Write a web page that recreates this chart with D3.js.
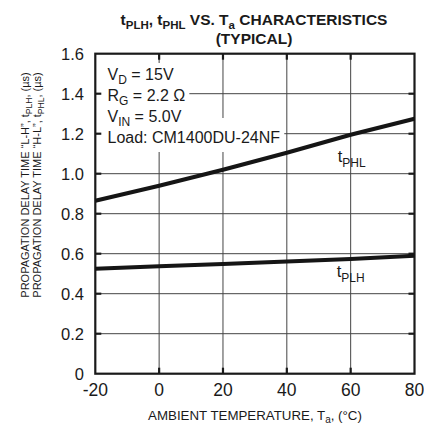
<!DOCTYPE html>
<html><head><meta charset="utf-8">
<script src="https://cdn.jsdelivr.net/npm/d3@7"></script>
<style>html,body{margin:0;padding:0;background:#fff;} text{font-family:"Liberation Sans",Arial,sans-serif;fill:#1a1a1a;}</style>
</head><body>
<svg id="c" width="424" height="428"></svg>
<script>
const temps = [-20, 0, 20, 40, 60, 80];
const tPHL = [0.865, 0.94, 1.02, 1.105, 1.195, 1.275];
const tPLH = [0.525, 0.537, 0.549, 0.561, 0.574, 0.59];
const xTicks = [-20, 0, 20, 40, 60, 80];
const yTicks = [0, 0.2, 0.4, 0.6, 0.8, 1.0, 1.2, 1.4, 1.6];
const yTickLabels = ["0", "0.2", "0.4", "0.6", "0.8", "1.0", "1.2", "1.4", "1.6"];
const notes = [["V", "D", " = 15V"], ["R", "G", " = 2.2 Ω"], ["V", "IN", " = 5.0V"], ["Load: CM1400DU-24NF", "", ""]];

const svg = d3.select("#c");
const L = 95.3, R = 414.5, T = 53.7, B = 373.7;
const x = d3.scaleLinear().domain([-20, 80]).range([L, R]);
const y = d3.scaleLinear().domain([0, 1.6]).range([B, T]);

// gridlines
const g = svg.append("g");
g.selectAll(".vg").data(xTicks.slice(1, -1)).enter().append("line")
  .attr("x1", d => x(d)).attr("x2", d => x(d)).attr("y1", T).attr("y2", B)
  .attr("stroke", "#444").attr("stroke-width", 1);
g.selectAll(".hg").data(yTicks.slice(1, -1)).enter().append("line")
  .attr("x1", L).attr("x2", R).attr("y1", d => y(d)).attr("y2", d => y(d))
  .attr("stroke", "#444").attr("stroke-width", 1);

// annotation with white background
const ann = svg.append("g");
const baselines = [80, 101, 122, 143];
const bgG = ann.append("g");
notes.forEach((n, i) => {
  const t = ann.append("text").attr("x", 107.5).attr("y", baselines[i]).attr("font-size", 16);
  t.append("tspan").text(n[0]);
  if (n[1]) t.append("tspan").attr("font-size", 12).attr("dy", 4).text(n[1]);
  if (n[2]) t.append("tspan").attr("dy", n[1] ? -4 : 0).text(n[2]);
  const bb = t.node().getBBox();
  const top = i === 3 ? baselines[i] - 25 : baselines[i] - 17;
  const bot = i === 3 ? baselines[i] + 9 : baselines[i] + 4;
  bgG.append("rect").attr("x", L + 1).attr("y", top).attr("width", bb.x + bb.width + 4 - L - 1)
    .attr("height", bot - top).attr("fill", "#fff");
});

// ticks
const tk = svg.append("g").attr("stroke", "#1a1a1a").attr("stroke-width", 2.2);
yTicks.slice(1, -1).forEach(v => {
  tk.append("line").attr("x1", L).attr("x2", L + 6).attr("y1", y(v)).attr("y2", y(v));
  tk.append("line").attr("x1", R - 6).attr("x2", R).attr("y1", y(v)).attr("y2", y(v));
});
xTicks.slice(1, -1).forEach(v => {
  tk.append("line").attr("x1", x(v)).attr("x2", x(v)).attr("y1", B).attr("y2", B - 6);
  tk.append("line").attr("x1", x(v)).attr("x2", x(v)).attr("y1", T).attr("y2", T + 6);
});

// border
svg.append("rect").attr("x", L).attr("y", T).attr("width", R - L).attr("height", B - T)
  .attr("fill", "none").attr("stroke", "#1a1a1a").attr("stroke-width", 2.2);

// data lines
const line = d3.line().x((d, i) => x(temps[i])).y(d => y(d));
svg.append("path").datum(tPHL).attr("d", line).attr("fill", "none").attr("stroke", "#151515").attr("stroke-width", 4.2);
svg.append("path").datum(tPLH).attr("d", line).attr("fill", "none").attr("stroke", "#151515").attr("stroke-width", 4);

// axis labels
svg.append("g").selectAll("text").data(yTicks).enter().append("text")
  .attr("x", 84).attr("y", d => y(d) + 6).attr("text-anchor", "end").attr("font-size", 16.5)
  .text((d, i) => yTickLabels[i]);
svg.append("g").selectAll("text").data(xTicks).enter().append("text")
  .attr("x", d => x(d)).attr("y", 396).attr("text-anchor", "middle").attr("font-size", 17.5)
  .text(d => d);

// series labels
function sublabel(px, py, main, sub) {
  const t = svg.append("text").attr("x", px).attr("y", py).attr("font-size", 16.5);
  t.append("tspan").text(main);
  t.append("tspan").attr("font-size", 12).attr("dy", 5).text(sub);
}
sublabel(x(60) - 13, 162, "t", "PHL");
sublabel(x(60) - 14, 277, "t", "PLH");

// title
const tt = svg.append("text").attr("x", 254).attr("y", 25).attr("text-anchor", "middle")
  .attr("font-size", 15.5).attr("font-weight", "bold");
tt.append("tspan").text("t");
tt.append("tspan").attr("font-size", 11.5).attr("dy", 3.5).text("PLH");
tt.append("tspan").attr("dy", -3.5).text(", t");
tt.append("tspan").attr("font-size", 11.5).attr("dy", 3.5).text("PHL");
tt.append("tspan").attr("dy", -3.5).text(" VS. T");
tt.append("tspan").attr("font-size", 11.5).attr("dy", 3.5).text("a");
tt.append("tspan").attr("dy", -3.5).text(" CHARACTERISTICS");
svg.append("text").attr("x", 254).attr("y", 44).attr("text-anchor", "middle")
  .attr("font-size", 15.5).attr("font-weight", "bold").text("(TYPICAL)");

// x title
const xt = svg.append("text").attr("x", 255).attr("y", 420).attr("text-anchor", "middle").attr("font-size", 13.3);
xt.append("tspan").text("AMBIENT TEMPERATURE, T");
xt.append("tspan").attr("font-size", 10).attr("dy", 3).text("a");
xt.append("tspan").attr("dy", -3).text(", (°C)");

// y titles
function ytitle(bx, q, sub) {
  const t = svg.append("text").attr("transform", `translate(${bx},185) rotate(-90)`)
    .attr("text-anchor", "middle").attr("font-size", 11);
  t.append("tspan").text(`PROPAGATION DELAY TIME “${q}”, t`);
  t.append("tspan").attr("font-size", 8.5).attr("dy", 2.5).text(sub);
  t.append("tspan").attr("dy", -2.5).text(", (µs)");
}
ytitle(29, "L-H", "PLH");
ytitle(41, "H-L", "PHL");
</script>
</body></html>
